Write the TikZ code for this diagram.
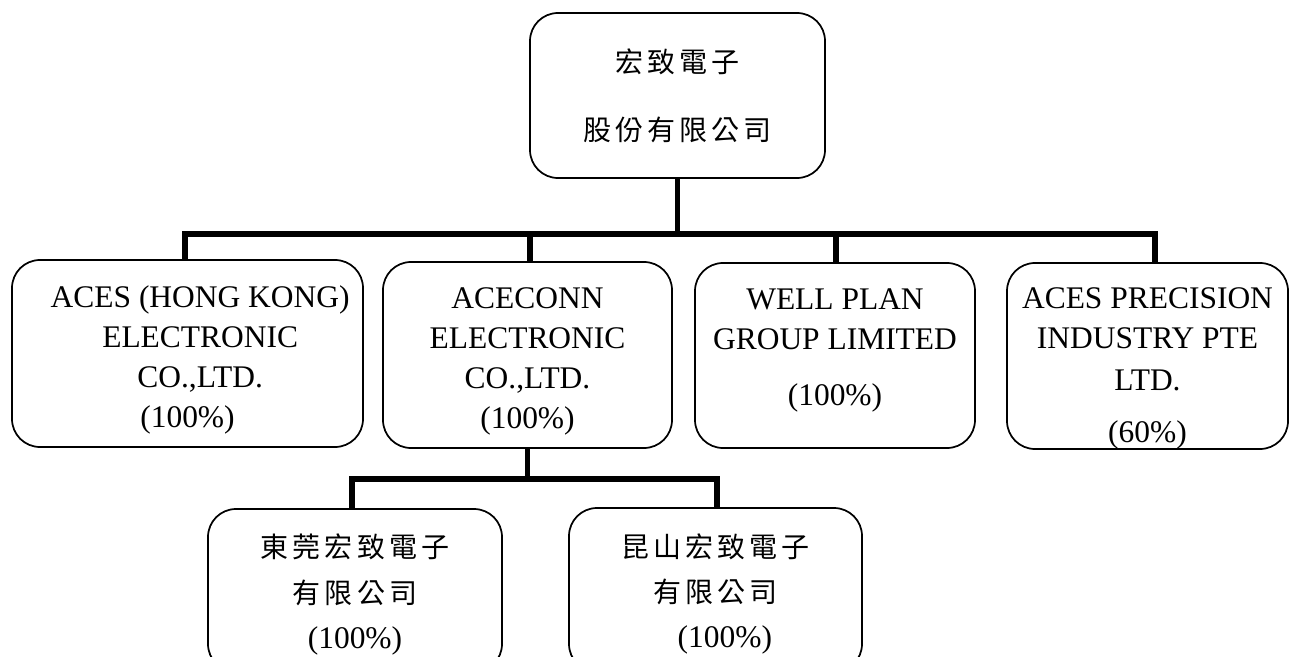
\documentclass[tikz,border=0pt]{standalone}
\usepackage{fontspec}
\setmainfont{Liberation Serif}
\newfontfamily\cjk[LetterSpace=15]{Noto Sans CJK TC}
\newcommand\zh[1]{{\cjk\fontsize{21}{21}\selectfont #1}}

\tikzset{every picture/.style={line width=0.75pt}}
\tikzset{
	orgbox/.style={draw, line width=1.3pt, rounded corners=21pt, inner sep=0pt, align=center, font=\fontsize{23.6}{30}\selectfont},
	link/.style={line width=4pt, line join=miter}
}

\begin{document}
\begin{tikzpicture}[x=0.75pt,y=0.75pt,yscale=-1,xscale=1]
	\useasboundingbox (0,0) rectangle (1290,657);
	\clip (0,0) rectangle (1290,657);
	
	%Shape: Rounded Rectangle [parent]
	\node[orgbox, minimum width=221.25pt, minimum height=123.75pt, font=\fontsize{23.6}{51}\selectfont] (aces) at (677.5,95.5) {\zh{宏致電子}\\\zh{股份有限公司}};
	
	%Shape: Rounded Rectangle [first level]
	\node[orgbox, minimum width=263.25pt, minimum height=140.25pt] (acesHK) at (187.5,353.5) {\rule{0pt}{25.5pt}\hspace*{19pt}ACES (HONG KONG)\\\hspace*{19pt}ELECTRONIC\\\hspace*{19pt}CO.,LTD.\\(100\%)};
	\node[orgbox, minimum width=216.75pt, minimum height=139.5pt] (aceconn) at (527.5,355) {\rule{0pt}{24.6pt}ACECONN\\ELECTRONIC\\CO.,LTD.\\(100\%)};
	\node[orgbox, minimum width=210pt, minimum height=138.75pt] (wellplan) at (835,355.5) {WELL PLAN\\GROUP LIMITED\\[12pt](100\%)\rule[-12.6pt]{0pt}{0pt}};
	\node[orgbox, minimum width=210.75pt, minimum height=139.5pt] (acesSG) at (1147.5,356) {\rule{0pt}{33.6pt}ACES PRECISION\\INDUSTRY PTE\\[1.5pt]LTD.\\[9pt](60\%)};
	
	%Shape: Rounded Rectangle [second level]
	\node[orgbox, minimum width=220.5pt, minimum height=122.25pt, font=\fontsize{23.6}{34}\selectfont] (dongguan) at (355,590.5) {\rule{0pt}{24pt}\zh{東莞宏致電子}\\\zh{有限公司}\\(100\%)};
	\node[orgbox, minimum width=219.75pt, minimum height=123pt, font=\fontsize{23.6}{34}\selectfont] (kunshan) at (715.5,590) {\rule{0pt}{24pt}\zh{昆山宏致電子}\\\zh{有限公司}\\\hspace*{14pt}(100\%)};
	
	%Straight Lines [parent to first level]
	\draw[link] (aces.south) -- ++(0,55) coordinate (bus);
	\draw[link] ([xshift=-1.9pt]acesHK.north) |- (bus) -| ([xshift=5.6pt]acesSG.north);
	\draw[link] ([xshift=1.9pt]aceconn.north) -- ([xshift=1.9pt]aceconn.north |- bus);
	\draw[link] ([xshift=0.75pt]wellplan.north) -- ([xshift=0.75pt]wellplan.north |- bus);
	
	%Straight Lines [aceconn to second level]
	\draw[link] (aceconn.south) -- ++(0,30) coordinate (subbus);
	\draw[link] ([xshift=-2.25pt]dongguan.north) |- (subbus) -| ([xshift=1.1pt]kunshan.north);
	
\end{tikzpicture}
\end{document}
